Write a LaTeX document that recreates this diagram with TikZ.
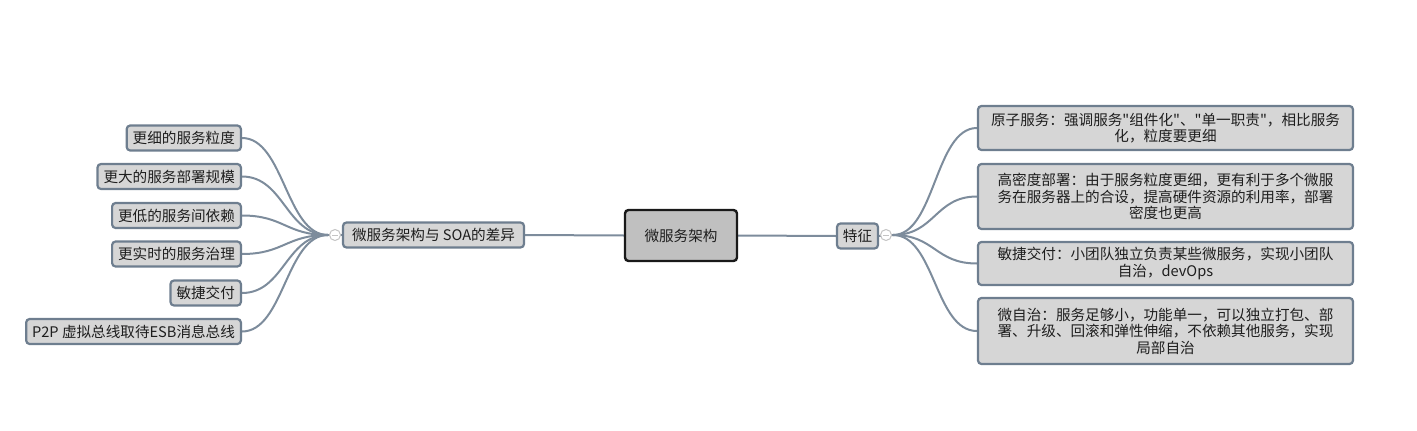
\documentclass[tikz,border=0pt]{standalone}
\usepackage{fontspec}
\newfontfamily\cjkfont{Noto Sans CJK SC}
\usetikzlibrary{backgrounds}
\definecolor{edgec}{HTML}{7D8C9C}
\definecolor{bordc}{HTML}{6E7E8F}
\definecolor{boxfill}{HTML}{D6D6D6}
\definecolor{rootfill}{HTML}{C0C0C0}
\definecolor{knobc}{HTML}{C4C4C4}
\definecolor{txt}{HTML}{1E1E1E}
\tikzset{
  base/.style={draw=bordc, line width=2.2pt, fill=boxfill, rounded corners=3.5pt,
    text=txt, font=\cjkfont\fontsize{14.6}{16.5}\selectfont, inner xsep=6pt, inner ysep=0pt},
  leaf/.style={base, anchor=east, minimum height=25pt},
  feat/.style={base, align=center, minimum width=375pt},
  branch/.style={base, minimum height=25pt},
  root/.style={base, draw=black!90, line width=2.4pt, fill=rootfill, minimum width=112pt, minimum height=51pt},
  conn/.style={draw=edgec, line width=2pt},
  knob/.style={circle, draw=knobc, line width=1pt, fill=white, minimum size=11pt, inner sep=0pt,
    path picture={\draw[knobc, line width=1pt] ([xshift=-3pt]path picture bounding box.center) -- ([xshift=3pt]path picture bounding box.center);}}
}
\begin{document}
\begin{tikzpicture}[x=1pt,y=-1pt]
\useasboundingbox (0,0) rectangle (1417,431);
% root and branches
\node[root] (root) at (681,235.5) {微服务架构};
\node[branch, minimum width=181pt] (diff) at (433.5,235) {微服务架构与 SOA的差异};
\node[branch, minimum width=41pt, inner xsep=3pt] (tz) at (857.5,236) {特征};
% left leaves
\node[leaf] (l1) at (242,138) {更细的服务粒度};
\node[leaf] (l2) at (242,176.5) {更大的服务部署规模};
\node[leaf] (l3) at (242,215.5) {更低的服务间依赖};
\node[leaf] (l4) at (242,254) {更实时的服务治理};
\node[leaf] (l5) at (242,293) {敏捷交付};
\node[leaf] (l6) at (242,331.5) {P2P 虚拟总线取待ESB消息总线};
% right features
\node[feat, minimum height=44pt] (r1) at (1165.5,128) {原子服务：强调服务"组件化"、"单一职责"，相比服务\\化，粒度要更细};
\node[feat, minimum height=65pt] (r2) at (1165.5,196.5) {高密度部署：由于服务粒度更细，更有利于多个微服\\务在服务器上的合设，提高硬件资源的利用率，部署\\密度也更高};
\node[feat, minimum height=43pt] (r3) at (1165.5,263.5) {敏捷交付：小团队独立负责某些微服务，实现小团队\\自治，devOps};
\node[feat, minimum height=66pt] (r4) at (1165.5,331) {微自治：服务足够小，功能单一，可以独立打包、部\\署、升级、回滚和弹性伸缩，不依赖其他服务，实现\\局部自治};
% fan origins
\coordinate (lo) at (328,235);
\coordinate (ro) at (893,235);
% connectors
\begin{scope}[on background layer]
\draw[conn] (root.west) -- (diff.east);
\draw[conn] (root.east) -- (tz.west);
\draw[conn] (diff.west) -- (lo);
\draw[conn] (tz.east) -- (ro);
\foreach \n in {l1,l2,l3,l4,l5,l6}
  \draw[conn] (lo) .. controls +(-42,0) and +(42,0) .. (\n.east);
\foreach \n in {r1,r2,r3,r4}
  \draw[conn] (ro) .. controls +(42,0) and +(-42,0) .. (\n.west);
\end{scope}
% knobs
\node[knob] (kl) at (335,235) {};
\node[knob] (kr) at (886,235) {};
\end{tikzpicture}
\end{document}
